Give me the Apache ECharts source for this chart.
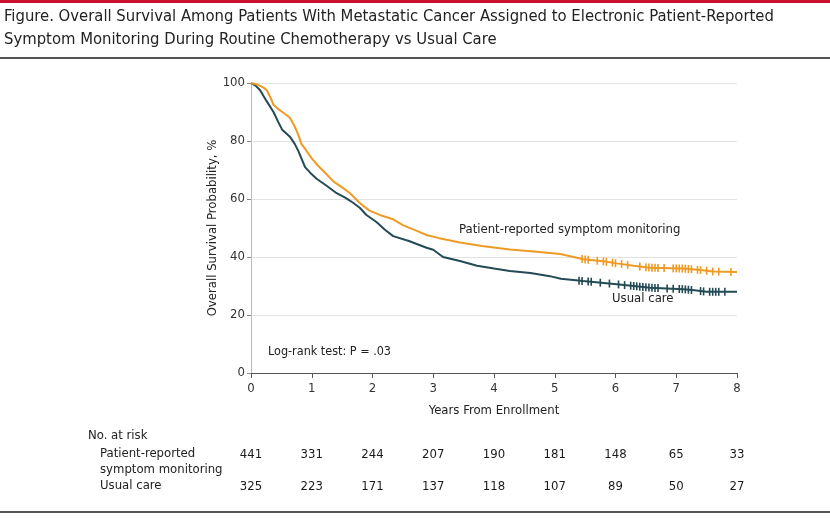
<!DOCTYPE html>
<html lang="en">
<head>
<meta charset="UTF-8">
<title>Overall Survival</title>
<script src="https://cdn.jsdelivr.net/npm/echarts@6/dist/echarts.min.js"></script>
<style>
    html, body { margin: 0; padding: 0; background: #fff; }
    #main { width: 830px; height: 518px; }
</style>
</head>
<body>
<div id="main"></div>
<script>
// Kaplan-Meier curves: [years, survival %]
var proCurve = [
    [0,100],[0.1,99.5],[0.2,98.5],[0.26,97.5],[0.32,95],[0.37,92.5],[0.45,91],[0.55,89.5],
    [0.64,88],[0.72,85],[0.78,82],[0.83,79],[0.9,77],[1.0,74],[1.08,72],[1.2,69.5],
    [1.36,66],[1.5,64],[1.63,62],[1.79,58.6],[1.95,56],[2.12,54.5],[2.34,53],[2.5,51],
    [2.73,49],[2.9,47.5],[3.1,46.5],[3.44,45],[3.8,43.8],[4.26,42.6],[4.7,41.8],[5.09,41],
    [5.47,39.2],[5.8,38.5],[6.02,37.8],[6.3,37],[6.57,36.3],[7.12,36],[7.4,35.5],[7.61,35],[8,34.8]
];
var usualCurve = [
    [0,100],[0.08,99],[0.15,97.5],[0.25,94],[0.37,90],[0.45,86.5],[0.51,84],[0.64,81.5],
    [0.72,79],[0.78,76.5],[0.89,71],[1.0,68.5],[1.08,67],[1.25,64.5],[1.41,62],[1.55,60.5],
    [1.68,58.7],[1.79,57],[1.9,54.5],[2.07,52],[2.2,49.5],[2.34,47.2],[2.6,45.5],[2.89,43.2],
    [3.0,42.5],[3.16,40],[3.44,38.6],[3.72,37],[4.0,36],[4.26,35.2],[4.6,34.5],[4.92,33.4],
    [5.1,32.5],[5.47,31.7],[6.02,30.6],[6.3,30],[6.57,29.4],[7.12,28.9],[7.3,28.5],[7.5,28],[8,28]
];
// censoring times (years)
var proCensor = [5.45,5.5,5.55,5.7,5.8,5.85,5.95,6.0,6.1,6.2,6.4,6.5,6.55,6.6,6.65,6.7,6.8,
    6.95,7.0,7.05,7.1,7.15,7.2,7.25,7.35,7.4,7.5,7.6,7.7,7.9];
var usualCensor = [5.4,5.45,5.55,5.6,5.75,5.9,6.05,6.15,6.25,6.3,6.35,6.4,6.45,6.5,6.55,6.6,
    6.65,6.7,6.85,6.95,7.05,7.1,7.15,7.2,7.25,7.4,7.45,7.55,7.6,7.65,7.7,7.8];
// number at risk
var riskYears = [0,1,2,3,4,5,6,7,8];
var proRisk = [441,331,244,207,190,181,148,65,33];
var usualRisk = [325,223,171,137,118,107,89,50,27];

var ORANGE = '#EE9B26';
var TEAL = '#234B55';
var FONT = '"DejaVu Sans Condensed", "Liberation Sans Narrow", "Noto Sans", sans-serif';

// position of the curve at time t, so the censor ticks sit on the line
function curveValue(curve, t) {
    var v = curve[0][1];
    for (var i = 0; i < curve.length - 1; i++) {
        var a = curve[i], b = curve[i + 1];
        if (t >= a[0] && t <= b[0]) {
            v = a[1] + (b[1] - a[1]) * (t - a[0]) / (b[0] - a[0]);
            break;
        }
    }
    return v;
}
function censorPoints(curve, times) {
    return times.map(function (t) { return [t, curveValue(curve, t)]; });
}
function riskPoints(row, counts) {
    return riskYears.map(function (y, i) { return [y, row, counts[i]]; });
}

var myChart = echarts.init(document.getElementById('main'));

var option = {
    animation: false,
    textStyle: { fontFamily: FONT },
    grid: [
        { left: 251, right: 93, top: 83, bottom: 145 },
        { left: 251, right: 93, top: 455, height: 32 }
    ],
    xAxis: [
        { type: 'value', gridIndex: 0, min: 0, max: 8, interval: 1,
          name: 'Years From Enrollment', nameLocation: 'middle', nameGap: 31,
          nameTextStyle: { fontSize: 13, color: '#222', fontFamily: FONT },
          axisLine: { lineStyle: { color: '#555', width: 1 } },
          axisTick: { show: true, length: 5, lineStyle: { color: '#555' } },
          axisLabel: { fontSize: 13, color: '#333', margin: 9, fontFamily: FONT },
          splitLine: { show: false } },
        { type: 'value', gridIndex: 1, min: 0, max: 8, interval: 1, show: false }
    ],
    yAxis: [
        { type: 'value', gridIndex: 0, min: 0, max: 100, interval: 20,
          name: 'Overall Survival Probability, %', nameLocation: 'middle', nameGap: 32,
          nameMoveOverlap: false,
          nameTextStyle: { fontSize: 13, color: '#222', fontFamily: FONT },
          axisLine: { show: true, lineStyle: { color: '#bbb' } },
          axisTick: { show: true, length: 4, lineStyle: { color: '#888' } },
          axisLabel: { fontSize: 13, color: '#333', margin: 6, fontFamily: FONT },
          splitLine: { show: true, lineStyle: { color: '#e2e2e2', width: 1 } } },
        { type: 'value', gridIndex: 1, min: 0, max: 1, inverse: true, show: false }
    ],
    graphic: [
        { type: 'rect', shape: { x: 0, y: 0, width: 830, height: 3 }, style: { fill: '#c8102e' } },
        { type: 'text', left: 4, top: 8, style: { text: 'Figure. Overall Survival Among Patients With Metastatic Cancer Assigned to Electronic Patient-Reported',
            font: '500 16.5px ' + FONT, fill: '#222' } },
        { type: 'text', left: 4, top: 31, style: { text: 'Symptom Monitoring During Routine Chemotherapy vs Usual Care',
            font: '500 16.5px ' + FONT, fill: '#222' } },
        { type: 'rect', shape: { x: 0, y: 57, width: 830, height: 2 }, style: { fill: '#555' } },
        { type: 'rect', shape: { x: 0, y: 511, width: 830, height: 2 }, style: { fill: '#555' } },
        { type: 'text', left: 459, top: 223, style: { text: 'Patient-reported symptom monitoring', font: '13px ' + FONT, fill: '#222' } },
        { type: 'text', left: 612, top: 292, style: { text: 'Usual care', font: '13px ' + FONT, fill: '#222' } },
        { type: 'text', left: 268, top: 345, style: { text: 'Log-rank test: P = .03', font: '12.5px ' + FONT, fill: '#222' } },
        { type: 'text', left: 88, top: 429, style: { text: 'No. at risk', font: '13px ' + FONT, fill: '#222' } },
        { type: 'text', left: 100, top: 447, style: { text: 'Patient-reported', font: '13px ' + FONT, fill: '#222' } },
        { type: 'text', left: 100, top: 463, style: { text: 'symptom monitoring', font: '13px ' + FONT, fill: '#222' } },
        { type: 'text', left: 100, top: 479, style: { text: 'Usual care', font: '13px ' + FONT, fill: '#222' } }
    ],
    series: [
        { name: 'Usual care', type: 'line', data: usualCurve, showSymbol: false,
          lineStyle: { color: TEAL, width: 2 }, z: 3 },
        { name: 'Patient-reported symptom monitoring', type: 'line', data: proCurve, showSymbol: false,
          lineStyle: { color: ORANGE, width: 2 }, z: 4 },
        { type: 'scatter', data: censorPoints(usualCurve, usualCensor), symbol: 'rect', symbolSize: [1.6, 8],
          itemStyle: { color: TEAL, opacity: 1 }, z: 3 },
        { type: 'scatter', data: censorPoints(proCurve, proCensor), symbol: 'rect', symbolSize: [1.6, 8],
          itemStyle: { color: ORANGE, opacity: 1 }, z: 4 },
        { type: 'scatter', xAxisIndex: 1, yAxisIndex: 1, symbolSize: 0,
          itemStyle: { color: 'transparent', opacity: 1 },
          data: riskPoints(0, proRisk).concat(riskPoints(1, usualRisk)),
          label: { show: true, position: 'inside', fontSize: 13, color: '#1a1a1a', fontFamily: FONT,
              formatter: function (p) { return p.value[2]; } } }
    ]
};

myChart.setOption(option);
</script>
</body>
</html>
